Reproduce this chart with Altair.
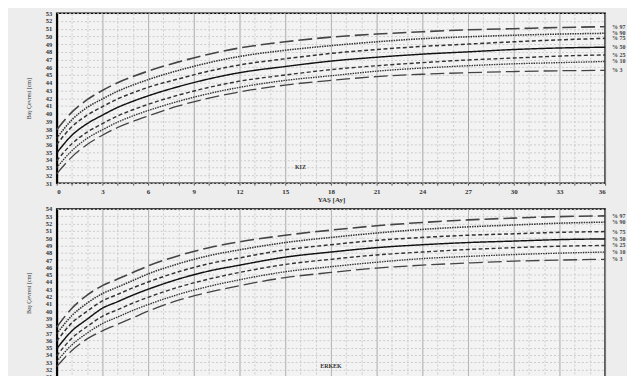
import altair as alt
import pandas as pd

ages = [0, 1, 2, 3, 4, 5, 6, 8, 10, 12, 15, 18, 21, 24, 27, 30, 33, 36]
percentiles = ["97", "90", "75", "50", "25", "10", "3"]
pct_labels = ["% 97", "% 90", "% 75", "% 50", "% 25", "% 10", "% 3"]

kiz_p97 = [37.9, 40.2, 41.8, 43.0, 44.0, 44.8, 45.5, 46.7, 47.7, 48.5, 49.3, 49.9, 50.3, 50.6, 50.85, 51.0, 51.15, 51.25]
kiz_p90 = [36.8, 39.2, 40.8, 41.9, 42.9, 43.7, 44.4, 45.6, 46.6, 47.4, 48.2, 48.8, 49.3, 49.7, 49.95, 50.15, 50.3, 50.4]
kiz_p75 = [36.0, 38.3, 39.8, 40.9, 41.9, 42.7, 43.4, 44.5, 45.5, 46.3, 47.1, 47.8, 48.3, 48.7, 49.0, 49.3, 49.55, 49.75]
kiz_p50 = [34.9, 37.2, 38.7, 39.8, 40.8, 41.6, 42.3, 43.5, 44.5, 45.3, 46.1, 46.8, 47.3, 47.7, 48.0, 48.3, 48.5, 48.6]
kiz_p25 = [33.9, 36.1, 37.6, 38.7, 39.7, 40.5, 41.2, 42.4, 43.4, 44.2, 45.0, 45.7, 46.2, 46.6, 46.95, 47.2, 47.45, 47.6]
kiz_p10 = [33.0, 35.2, 36.8, 37.9, 38.9, 39.7, 40.4, 41.6, 42.6, 43.4, 44.3, 44.9, 45.5, 45.9, 46.2, 46.45, 46.6, 46.75]
kiz_p3 = [32.2, 34.4, 36.0, 37.2, 38.2, 39.0, 39.7, 41.0, 42.0, 42.8, 43.7, 44.3, 44.8, 45.1, 45.3, 45.45, 45.55, 45.6]

erkek_p97 = [37.8, 40.4, 42.2, 43.5, 44.4, 45.3, 46.2, 47.6, 48.7, 49.5, 50.4, 51.1, 51.7, 52.15, 52.5, 52.75, 52.95, 53.05]
erkek_p90 = [36.9, 39.4, 41.1, 42.4, 43.3, 44.2, 45.1, 46.5, 47.6, 48.4, 49.4, 50.1, 50.7, 51.2, 51.55, 51.8, 52.05, 52.2]
erkek_p75 = [35.9, 38.4, 40.0, 41.4, 42.3, 43.2, 44.0, 45.4, 46.5, 47.3, 48.4, 49.1, 49.7, 50.1, 50.4, 50.6, 50.8, 50.9]
erkek_p50 = [34.85, 37.3, 38.9, 40.4, 41.3, 42.2, 43.0, 44.4, 45.5, 46.3, 47.4, 48.1, 48.7, 49.1, 49.4, 49.6, 49.8, 49.9]
erkek_p25 = [33.9, 36.3, 37.9, 39.3, 40.2, 41.1, 41.9, 43.3, 44.4, 45.3, 46.4, 47.1, 47.7, 48.1, 48.45, 48.7, 48.9, 49.0]
erkek_p10 = [33.1, 35.4, 37.0, 38.3, 39.2, 40.1, 40.9, 42.3, 43.4, 44.3, 45.4, 46.1, 46.7, 47.2, 47.5, 47.75, 47.95, 48.1]
erkek_p3 = [32.4, 34.6, 36.2, 37.3, 38.2, 39.1, 40.0, 41.5, 42.6, 43.5, 44.6, 45.3, 45.9, 46.3, 46.6, 46.85, 47.0, 47.1]

kiz = [kiz_p97, kiz_p90, kiz_p75, kiz_p50, kiz_p25, kiz_p10, kiz_p3]
erkek = [erkek_p97, erkek_p90, erkek_p75, erkek_p50, erkek_p25, erkek_p10, erkek_p3]

x_ticks = list(range(0, 37))
FONT = "Liberation Serif"


def panel(series, ymin, ymax, name, name_age, name_val, height):
    rows = []
    for p, lbl, vals in zip(percentiles, pct_labels, series):
        for i, (a, v) in enumerate(zip(ages, vals)):
            rows.append({"age": a, "val": v, "p": p,
                         "lbl": lbl if i == len(ages) - 1 else "", "txt": ""})
    rows.append({"age": name_age, "val": name_val, "p": "name", "lbl": "", "txt": name})
    df = pd.DataFrame(rows)

    x_enc = alt.X(
        "age:Q",
        scale=alt.Scale(domain=[0, 36], nice=False),
        axis=alt.Axis(
            title="YAŞ [Ay]",
            values=x_ticks,
            labelOverlap=False,
            labelExpr="datum.value % 3 === 0 ? datum.label : ''",
            gridColor={"condition": {"test": "datum.value % 3 === 0", "value": "#a0a0a0"}, "value": "#cccccc"},
            gridDash={"condition": {"test": "datum.value % 3 === 0", "value": [1, 0]}, "value": [2, 2]},
            gridWidth=1,
            tickSize=2,
            labelPadding=2,
            titlePadding=1,
            domain=False,
        ),
    )
    y_enc = alt.Y(
        "val:Q",
        scale=alt.Scale(domain=[ymin, ymax], nice=False, zero=False),
        axis=alt.Axis(
            title="Baş Çevresi [cm]",
            values=list(range(ymin, ymax + 1)),
            labelOverlap=False,
            labelFontSize=6.5,
            gridColor="#cccccc",
            gridDash=[2, 2],
            gridWidth=1,
            tickSize=0,
            labelPadding=5,
            titlePadding=14,
            titleFontSize=6,
            titleFontWeight="normal",
            domainColor="black",
            domainWidth=2,
        ),
    )

    base = alt.Chart(df).encode(x=x_enc, y=y_enc)

    lines = base.mark_line(interpolate="monotone").encode(
        detail="p:N",
        strokeDash=alt.StrokeDash(
            "p:N",
            scale=alt.Scale(
                domain=percentiles,
                range=[[14, 5], [1.5, 1], [4, 2.5], [1, 0], [4, 2.5], [1.5, 1], [14, 5]],
            ),
            legend=None,
        ),
        strokeWidth=alt.StrokeWidth(
            "p:N",
            scale=alt.Scale(domain=percentiles, range=[1.6, 1.3, 1.2, 1.8, 1.2, 1.3, 1.6]),
            legend=None,
        ),
        color=alt.Color(
            "p:N",
            scale=alt.Scale(domain=percentiles,
                            range=["#444444", "#333333", "#333333", "#111111", "#333333", "#333333", "#444444"]),
            legend=None,
        ),
    ).transform_filter("datum.p !== 'name'")

    legend_text = base.mark_text(
        align="left", dx=7, fontSize=6, font=FONT, fontWeight="bold", color="#444"
    ).encode(text="lbl:N").transform_filter("datum.lbl !== ''")

    name_text = base.mark_text(
        fontSize=6, font=FONT, fontWeight="bold", color="#333"
    ).encode(text="txt:N").transform_filter("datum.txt !== ''")

    return alt.layer(lines, legend_text, name_text).properties(width=552, height=height)


top = panel(kiz, 31, 53, "KIZ", 16, 33.1, 171)
bottom = panel(erkek, 31, 54, "ERKEK", 18, 32.5, 169)

chart = alt.vconcat(top, bottom, spacing=2).properties(
    padding={"left": 16, "top": 0, "right": 0, "bottom": 0},
    background="#ededed",
).configure_view(
    stroke="black", strokeWidth=1.5, fill="#f3f3f3"
).configure_axis(
    labelFont=FONT,
    labelFontWeight="bold",
    labelFontSize=7,
    labelColor="#333",
    titleFont=FONT,
    titleFontSize=7,
    titleColor="#333",
    tickColor="#555",
)

chart.save("out.html", embed_options={"renderer": "svg", "actions": False})
